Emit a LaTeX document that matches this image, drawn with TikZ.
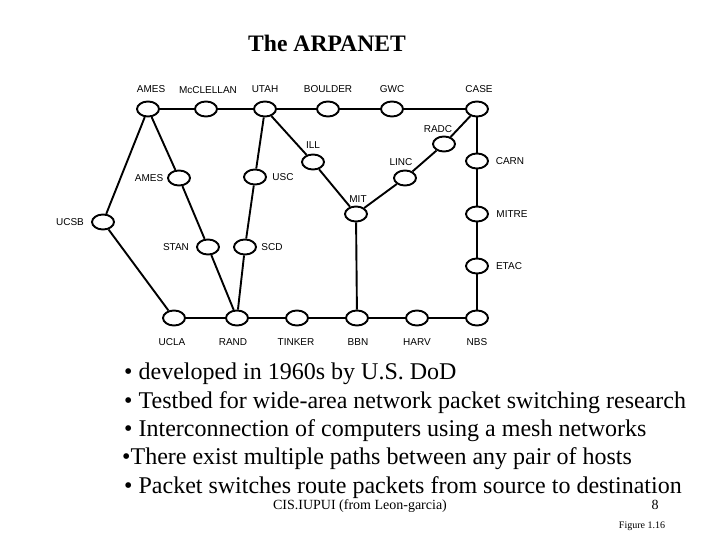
\documentclass[tikz,border=0pt]{standalone}
\usepackage{fontspec}
\setmainfont{Liberation Serif}
\setsansfont{Liberation Sans}
\usetikzlibrary{shapes.geometric}
\tikzstyle{imp}=[shape=ellipse, minimum width=22pt, minimum height=15pt, inner sep=0, draw=black, line width=1.9pt]
\tikzstyle{lbl}=[font=\sffamily\fontsize{10}{12}\selectfont, inner sep=0, text height=7.2pt, text depth=0pt]
\tikzstyle{link}=[line width=1.9pt]
\tikzstyle{bul}=[font=\fontsize{24}{28}\selectfont, anchor=base west, inner sep=0]

\begin{document}
\begin{tikzpicture}[x=1pt, y=-1pt]
\useasboundingbox (0,0) rectangle (720,540);
\node at (327,52)[anchor=base, inner sep=0, font=\bfseries\fontsize{23.6}{28}\selectfont](title){The ARPANET};
% switches
\node at (148,109)[imp](ames){};
\node at (206,109)[imp](mccl){};
\node at (265,109)[imp](utah){};
\node at (328,109)[imp](bould){};
\node at (392,109)[imp](gwc){};
\node at (477,109)[imp](case){};
\node at (444,144)[imp](radc){};
\node at (477,161)[imp](carn){};
\node at (313,162)[imp](ill){};
\node at (405,178)[imp](linc){};
\node at (179,178)[imp](ames2){};
\node at (255,177)[imp](usc){};
\node at (356,214)[imp](mit){};
\node at (477,214)[imp](mitre){};
\node at (103,222)[imp](ucsb){};
\node at (208,247)[imp](stan){};
\node at (245,247)[imp](scd){};
\node at (477,266)[imp](etac){};
\node at (174,318)[imp](ucla){};
\node at (237,318)[imp](rand){};
\node at (297,318)[imp](tinker){};
\node at (357,318)[imp](bbn){};
\node at (417,318)[imp](harv){};
\node at (477,318)[imp](nbs){};
% site names
\node at (151,89)[lbl](ames-l){AMES};
\node at (208,90)[lbl](mccl-l){McCLELLAN};
\node at (265,89)[lbl](utah-l){UTAH};
\node at (328,89)[lbl](bould-l){BOULDER};
\node at (392,89)[lbl](gwc-l){GWC};
\node at (479,89)[lbl](case-l){CASE};
\node at (438,129)[lbl](radc-l){RADC};
\node at (510,161)[lbl](carn-l){CARN};
\node at (313,145)[lbl](ill-l){ILL};
\node at (401,162)[lbl](linc-l){LINC};
\node at (149,178)[lbl](ames2-l){AMES};
\node at (283,177)[lbl](usc-l){USC};
\node at (358,199)[lbl](mit-l){MIT};
\node at (512,214)[lbl](mitre-l){MITRE};
\node at (70,222)[lbl](ucsb-l){UCSB};
\node at (176,247)[lbl](stan-l){STAN};
\node at (272,247)[lbl](scd-l){SCD};
\node at (509,266)[lbl](etac-l){ETAC};
\node at (172,342)[lbl](ucla-l){UCLA};
\node at (233,342)[lbl](rand-l){RAND};
\node at (296,342)[lbl](tinker-l){TINKER};
\node at (358,342)[lbl](bbn-l){BBN};
\node at (417,342)[lbl](harv-l){HARV};
\node at (477,342)[lbl](nbs-l){NBS};
% links
\draw[link] (ames)--(mccl)--(utah)--(bould)--(gwc)--(case);
\draw[link] (case)--(carn)--(mitre)--(etac)--(nbs);
\draw[link] (ucla)--(rand)--(tinker)--(bbn)--(harv)--(nbs);
\draw[link] (ames)--(ucsb)--(ucla);
\draw[link] (ames)--(ames2)--(stan)--(rand);
\draw[link] (utah)--(usc)--(scd)--(rand);
\draw[link] (utah)--(ill)--(mit)--(linc)--(radc)--(case);
\draw[link] (mit)--(bbn);
% bullets
\node at (124,379)[bul](b1){• developed in 1960s by U.S. DoD};
\node at (124,408)[bul](b2){• Testbed for wide-area network packet switching research};
\node at (124,436)[bul](b3){• Interconnection of computers using a mesh networks};
\node at (122,464)[bul](b4){•There exist multiple paths between any pair of hosts};
\node at (124,493)[bul](b5){• Packet switches route packets from source to destination};
% footer
\node at (360,509)[anchor=base, inner sep=0, font=\fontsize{14}{16}\selectfont](src){CIS.IUPUI (from Leon-garcia)};
\node at (655,509)[anchor=base, inner sep=0, font=\fontsize{14}{16}\selectfont](page){8};
\node at (642,528)[anchor=base, inner sep=0, font=\fontsize{10}{12}\selectfont](fig){Figure 1.16};
\end{tikzpicture}
\end{document}
